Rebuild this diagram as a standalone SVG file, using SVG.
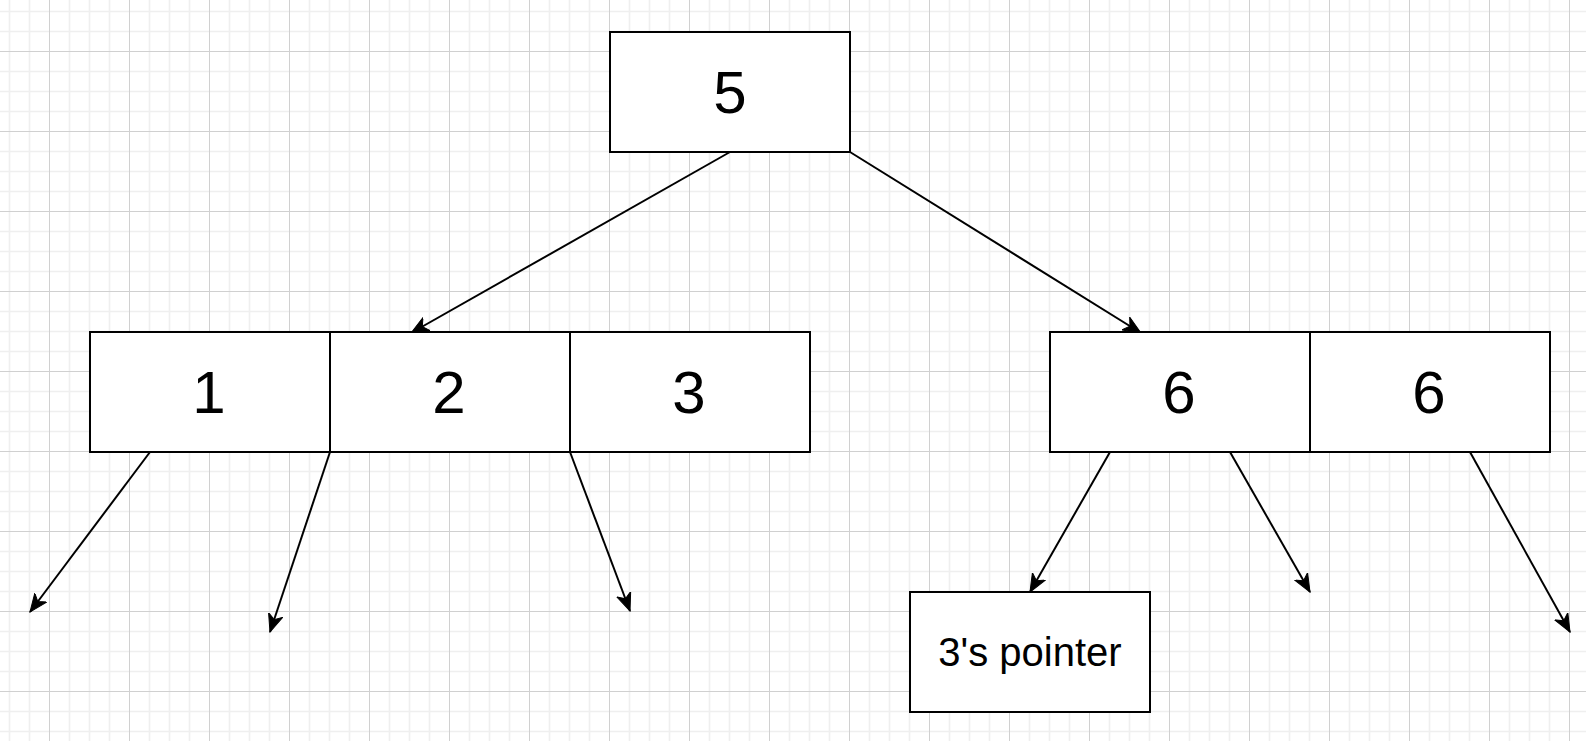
<svg xmlns="http://www.w3.org/2000/svg" width="1586" height="741" viewBox="0 0 1586 741">
  <style>
    .box { fill: #ffffff; stroke: #000000; stroke-width: 2; }
    .num { font-family: "Liberation Sans", Arial, sans-serif; font-size: 60px; fill: #000000; text-anchor: middle; }
    .lbl { font-family: "Liberation Sans", Arial, sans-serif; font-size: 40px; fill: #000000; text-anchor: middle; }
    .edge { fill: none; stroke: #000000; stroke-width: 2; marker-end: url(#arrow); }
  </style>
  <defs>
    <pattern id="grid" patternUnits="userSpaceOnUse" x="49" y="51" width="80" height="80">
      <path d="M20.5,0 V80 M40.5,0 V80 M60.5,0 V80 M0,20.5 H80 M0,40.5 H80 M0,60.5 H80" stroke="#efefef" stroke-width="1.6" fill="none"/>
      <path d="M0.5,0 V80 M0,0.5 H80" stroke="#d0d0d0" stroke-width="1" fill="none"/>
    </pattern>
    <marker id="arrow" markerUnits="userSpaceOnUse" viewBox="0 0 19 16" refX="18" refY="8" markerWidth="19" markerHeight="16" orient="auto">
      <path d="M0,0.5 L18,8 L0,15.5 L5,8 Z" fill="#000000" stroke="#000000" stroke-width="1" stroke-linejoin="miter"/>
    </marker>
  </defs>

  <rect x="0" y="0" width="1586" height="741" fill="#ffffff"/>
  <rect x="0" y="0" width="1586" height="741" fill="url(#grid)"/>

  <g id="connectors">
    <line class="edge" x1="730" y1="152" x2="411" y2="333"/>
    <line class="edge" x1="850" y1="152" x2="1141" y2="333"/>
    <line class="edge" x1="150" y1="452" x2="30" y2="612"/>
    <line class="edge" x1="330" y1="452" x2="270" y2="632"/>
    <line class="edge" x1="570" y1="452" x2="630" y2="611"/>
    <line class="edge" x1="1110" y1="452" x2="1030" y2="592"/>
    <line class="edge" x1="1230" y1="452" x2="1310" y2="592"/>
    <line class="edge" x1="1470" y1="452" x2="1570" y2="632"/>
  </g>

  <g id="node-5">
    <rect class="box" x="610" y="32" width="240" height="120"/>
    <text class="num" x="730" y="113">5</text>
  </g>

  <g id="node-1">
    <rect class="box" x="90" y="332" width="240" height="120"/>
    <text class="num" x="209" y="413">1</text>
  </g>
  <g id="node-2">
    <rect class="box" x="330" y="332" width="240" height="120"/>
    <text class="num" x="449" y="413">2</text>
  </g>
  <g id="node-3">
    <rect class="box" x="570" y="332" width="240" height="120"/>
    <text class="num" x="689" y="413">3</text>
  </g>

  <g id="node-6a">
    <rect class="box" x="1050" y="332" width="260" height="120"/>
    <text class="num" x="1179" y="413">6</text>
  </g>
  <g id="node-6b">
    <rect class="box" x="1310" y="332" width="240" height="120"/>
    <text class="num" x="1429" y="413">6</text>
  </g>

  <g id="node-pointer">
    <rect class="box" x="910" y="592" width="240" height="120"/>
    <text class="lbl" x="1030" y="666">3's pointer</text>
  </g>
</svg>
